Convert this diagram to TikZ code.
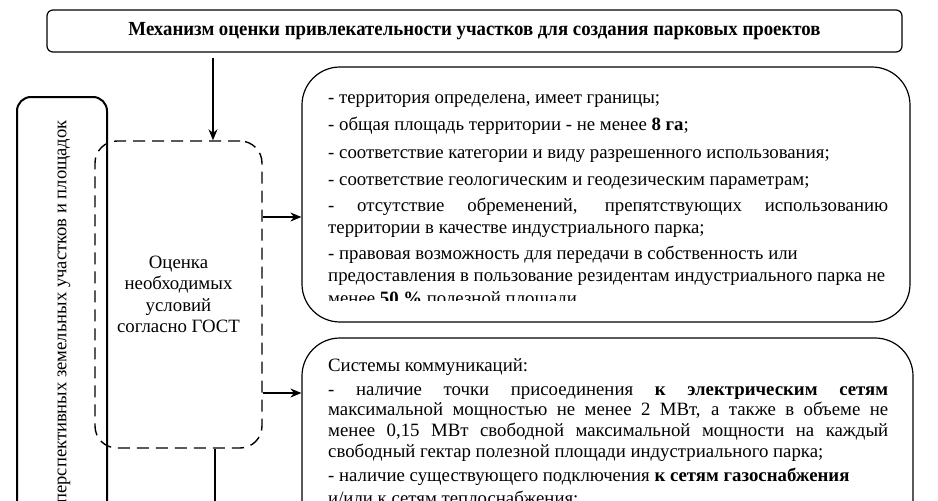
\documentclass[tikz,border=0pt]{standalone}
\usepackage{fontspec}
\setmainfont{Liberation Serif}
\usetikzlibrary{arrows.meta}
\newcommand\jl[1]{\hbox to 560pt{\spaceskip=0.25em plus 1fil\relax #1}}
\begin{document}
\begin{tikzpicture}[x=1pt,y=-1pt,
  box/.style={draw, line width=1.2pt, inner sep=0pt},
  tl/.style={anchor=base west, inner sep=0pt, font=\fontsize{18.8}{22}\selectfont},
  arr/.style={-{Stealth[length=11pt,width=9pt]}, line width=1.2pt}]
\useasboundingbox (0,0) rectangle (938,501);
\fill[white] (0,0) rectangle (938,501);
% boxes
\node[box, rounded corners=6pt, minimum width=855pt, minimum height=42pt] (title) at (474.5,31)
  {\resizebox{692pt}{\height}{\fontsize{20}{24}\selectfont\bfseries Механизм оценки привлекательности участков для создания парковых проектов}};
\node[box, line width=2pt, rounded corners=14pt, minimum width=90pt, minimum height=443pt] (left) at (62,318.5) {};
\node[anchor=east, rotate=90, inner sep=0pt, font=\fontsize{18.6}{22}\selectfont] (lefttxt) at (64,120) {перспективных земельных участков и площадок};
\node[box, line width=1.4pt, dash pattern=on 12pt off 7pt, rounded corners=22pt, minimum width=167pt, minimum height=307pt,
  align=center, font=\fontsize{18.8}{21.5}\selectfont] (gost) at (178.5,294.5)
  {Оценка\\необходимых\\условий\\согласно ГОСТ};
\node[box, rounded corners=38pt, minimum width=608pt, minimum height=255pt] (b1) at (606,194.5) {};
\node[box, rounded corners=38pt, minimum width=611pt, minimum height=222pt] (b2) at (607.5,449) {};
% box 1 text
\begin{scope}
\clip (300,60) rectangle (920,300);
\node[tl] (t11) at (328,103) {- территория определена, имеет границы;};
\node[tl] (t12) at (328,130) {- общая площадь территории - не менее \textbf{8 га};};
\node[tl] (t13) at (328,158) {- соответствие категории и виду разрешенного использования;};
\node[tl] (t14) at (328,185) {- соответствие геологическим и геодезическим параметрам;};
\node[tl] (t15) at (328,211) {\jl{- отсутствие обременений, препятствующих использованию}};
\node[tl] (t16) at (328,233) {территории в качестве индустриального парка;};
\node[tl] (t17) at (328,259) {- правовая возможность для передачи в собственность или};
\node[tl] (t18) at (328,281) {предоставления в пользование резидентам индустриального парка не};
\node[tl] (t19) at (328,304) {менее \textbf{50 \%} полезной площади};
\end{scope}
% box 2 text
\node[tl] (t21) at (328,371) {Системы коммуникаций:};
\node[tl] (t22) at (328,395) {\jl{- наличие точки присоединения \textbf{к электрическим сетям}}};
\node[tl] (t23) at (328,415) {\jl{максимальной мощностью не менее 2 МВт, а также в объеме не}};
\node[tl] (t24) at (328,436) {\jl{менее 0,15 МВт свободной максимальной мощности на каждый}};
\node[tl] (t25) at (328,457) {свободный гектар полезной площади индустриального парка;};
\node[tl] (t26) at (328,481) {- наличие существующего подключения \textbf{к сетям газоснабжения}};
\node[tl] (t27) at (328,504) {и/или к сетям теплоснабжения;};
% connectors
\coordinate (a0) at (213,58);
\draw[arr] (a0) -- (a0 |- gost.north);
\draw[arr] (gost.east |- 0,217) -- (b1.west |- 0,217);
\draw[arr] (gost.east |- 0,393) -- (b2.west |- 0,393);
\coordinate (a1) at (215,520);
\draw[line width=1.2pt] (a1 |- gost.south) -- (a1);
\end{tikzpicture}
\end{document}
